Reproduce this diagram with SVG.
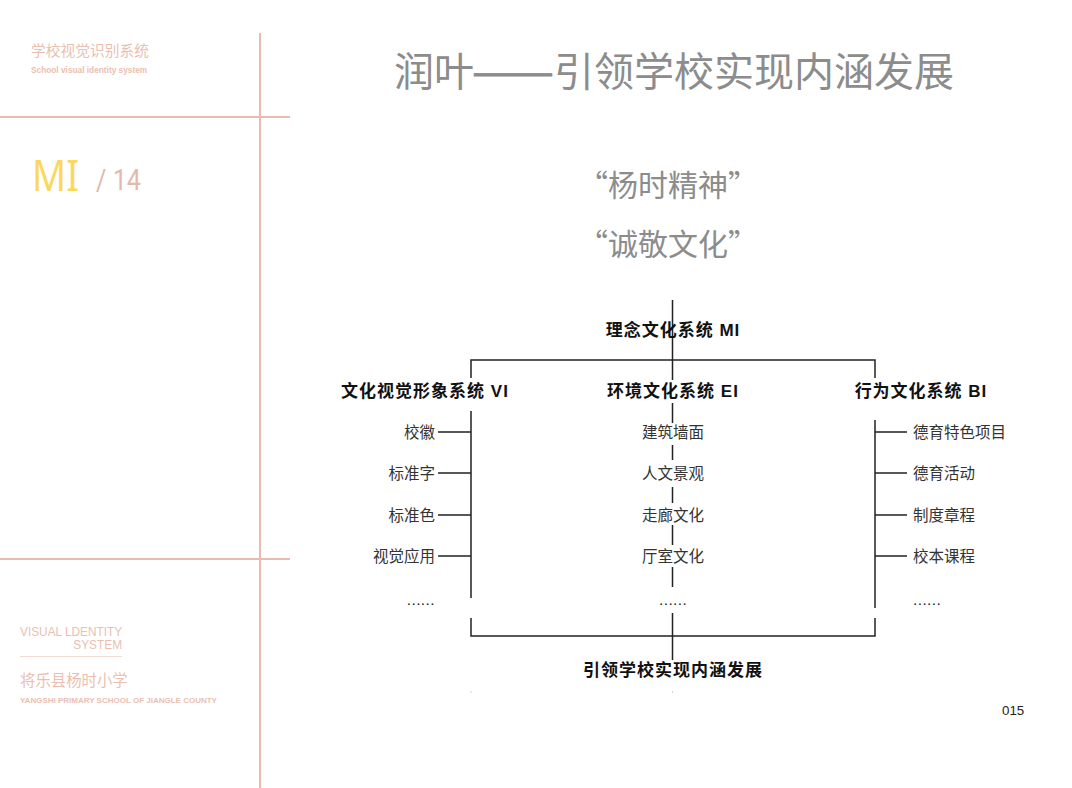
<svg xmlns="http://www.w3.org/2000/svg" width="1072" height="788" viewBox="0 0 1072 788">
<style>
text{font-family:"Noto Sans CJK SC","Noto Sans",sans-serif}
.la{font-family:"Liberation Sans","Noto Sans CJK SC",sans-serif}
.pk{fill:#eabfb1}
.rule{stroke:#e8bcae;stroke-width:2;fill:none}
.t{fill:#8c8c8c;font-weight:400}
.h{font-family:"Liberation Sans","Noto Sans CJK SC",sans-serif;font-size:17px;font-weight:700;fill:#111;letter-spacing:1px;text-anchor:middle}
.i{font-size:15.500px;fill:#333;font-weight:400}
.e{text-anchor:end}
.d{font-family:"Liberation Sans",sans-serif;font-size:15.500px;fill:#222;letter-spacing:.4px}
.c{stroke:#222;stroke-width:1.500;fill:none}
</style>
<rect width="1072" height="788" fill="#fff"/>
<g id="sidebar">
<path class="rule" d="M260 33V788M0 117H290M0 559H290"/>
<path d="M20 656.500H122" stroke="#f3dcd4" stroke-width="1"/>
<text class="pk" x="31" y="56" font-size="14.750">学校视觉识别系统</text>
<text class="pk la" x="31" y="73" font-size="8.300" font-weight="700">School visual identity system</text>
<text x="32" y="190.500" font-size="44" fill="#fbd85d" font-weight="400" textLength="47" lengthAdjust="spacingAndGlyphs" style="font-family:'Noto Sans',sans-serif">MI</text>
<text x="96" y="190" font-size="29" fill="#e5b9aa" font-weight="400" textLength="45" lengthAdjust="spacingAndGlyphs" style="font-family:Roboto,sans-serif">/ 14</text>
<text class="pk la" x="20" y="635.500" font-size="11.850">VISUAL LDENTITY</text>
<text class="pk la" x="122" y="648.500" font-size="11.850" text-anchor="end">SYSTEM</text>
<text class="pk" x="20" y="686" font-size="15.400">将乐县杨时小学</text>
<text class="pk la" x="20" y="703" font-size="8" font-weight="700">YANGSHI PRIMARY SCHOOL OF JIANGLE COUNTY</text>
</g>
<g id="heading">
<text class="t" x="394" y="86" font-size="40">润叶</text>
<text class="t" x="472" y="86" font-size="40" textLength="82" lengthAdjust="spacingAndGlyphs" stroke="#8c8c8c" stroke-width=".8">——</text>
<text class="t" x="554" y="86" font-size="40">引领学校实现内涵发展</text>
<text class="t" x="668" y="196" font-size="30" text-anchor="middle">“杨时精神”</text>
<text class="t" x="668" y="255" font-size="30" text-anchor="middle">“诚敬文化”</text>
</g>
<g id="connectors">
<path class="c" d="M672.500 300V380M471 378V360H875V378"/>
<path class="c" d="M672.500 403V423M672.500 445V460M672.500 487V503M672.500 525V545M672.500 567V587M672.500 613V660"/>
<path class="c" d="M471 411V598M471 618V636H875V618M875 420V608"/>
<path class="c" d="M438 432H471M438 473H471M438 515H471M438 556H471M875 432H907M875 473H907M875 515H907M875 556H907"/>
<path d="M471 691.500V692.500M672.500 691.500V692.500" stroke="#aaa" stroke-width="1"/>
</g>
<g id="node-mi"><text class="h" x="673" y="336">理念文化系统 MI</text></g>
<g id="node-vi"><text class="h" x="425" y="397">文化视觉形象系统 VI</text></g>
<g id="node-ei"><text class="h" x="673" y="397">环境文化系统 EI</text></g>
<g id="node-bi"><text class="h" x="921" y="397">行为文化系统 BI</text></g>
<g id="node-result"><text class="h" x="673" y="676">引领学校实现内涵发展</text></g>
<g id="items-vi">
<text class="i e" x="435" y="437.500">校徽</text>
<text class="i e" x="435" y="479">标准字</text>
<text class="i e" x="435" y="520.500">标准色</text>
<text class="i e" x="435" y="562">视觉应用</text>
<text class="d e" x="435" y="605">......</text>
</g>
<g id="items-ei">
<text class="i" x="642" y="437.500">建筑墙面</text>
<text class="i" x="642" y="479">人文景观</text>
<text class="i" x="642" y="520.500">走廊文化</text>
<text class="i" x="642" y="562">厅室文化</text>
<text class="d" x="659" y="605">......</text>
</g>
<g id="items-bi">
<text class="i" x="913" y="437.500">德育特色项目</text>
<text class="i" x="913" y="479">德育活动</text>
<text class="i" x="913" y="520.500">制度章程</text>
<text class="i" x="913" y="562">校本课程</text>
<text class="d" x="913" y="605">......</text>
</g>
<text class="la" x="1002" y="715" font-size="13.300" fill="#222">015</text>
</svg>
